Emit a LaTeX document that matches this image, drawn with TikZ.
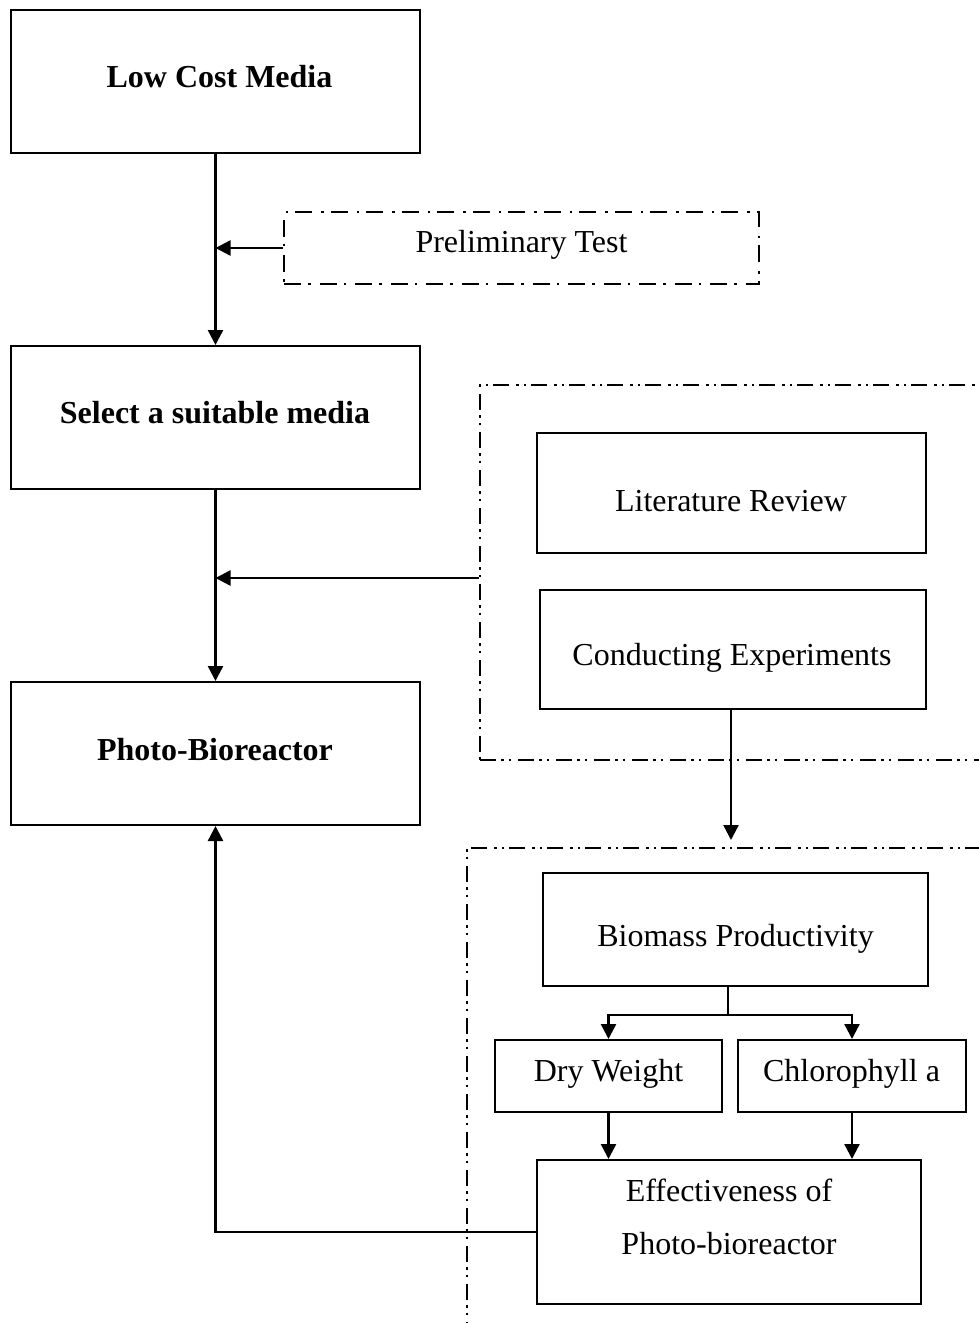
\documentclass[tikz,border=0pt]{standalone}
\usepackage{fontspec}
\setmainfont{Liberation Serif}
\usetikzlibrary{arrows.meta}
\begin{document}
\begin{tikzpicture}[x=1pt,y=-1pt,
  box/.style={draw, line width=2pt, rectangle, inner sep=0pt},
  txt/.style={anchor=base, inner sep=0pt, font=\fontsize{32}{38}\selectfont},
  btxt/.style={txt, font=\fontsize{32}{38}\selectfont\bfseries},
  dashdot/.style={draw, line width=2pt, rectangle, inner sep=0pt,
    dash pattern=on 17pt off 7pt on 2.5pt off 9pt},
  dashdotdot/.style={draw, line width=2pt, rectangle, inner sep=0pt,
    dash pattern=on 16pt off 5pt on 2.5pt off 5pt on 2.5pt off 7pt},
  link/.style={line width=2.4pt},
  arr/.style={line width=2.4pt, -{Triangle[length=15pt,width=15pt]}}]
\clip (0,0) rectangle (979,1323);
\fill[white] (0,0) rectangle (979,1323);

% left column boxes
\node[box, minimum width=409pt, minimum height=143pt] (low) at (215.5,81.5) {};
\node[btxt] (lowt) at (219.5,87) {Low Cost Media};
\node[box, minimum width=409pt, minimum height=143pt] (sel) at (215.5,417.5) {};
\node[btxt] (selt) at (215,423) {Select a suitable media};
\node[box, minimum width=409pt, minimum height=143pt] (photo) at (215.5,753.5) {};
\node[btxt] (photot) at (215,760) {Photo-Bioreactor};

% preliminary test
\node[dashdot, minimum width=475pt, minimum height=72pt] (pre) at (521.5,248) {};
\node[txt] (pret) at (521.5,252) {Preliminary Test};

% group 1
\node[dashdotdot, minimum width=530pt, minimum height=375pt] (grp1) at (745,572.5) {};
\node[box, minimum width=389pt, minimum height=120pt] (lit) at (731.5,493) {};
\node[txt] (litt) at (731,511) {Literature Review};
\node[box, minimum width=386pt, minimum height=119pt] (cond) at (733,649.5) {};
\node[txt] (condt) at (732,665) {Conducting Experiments};

% group 2
\node[dashdotdot, minimum width=543pt, minimum height=492pt] (grp2) at (738.5,1094) {};
\node[box, minimum width=385pt, minimum height=113pt] (bio) at (735.5,929.5) {};
\node[txt] (biot) at (735.5,946) {Biomass Productivity};
\node[box, minimum width=227pt, minimum height=72pt] (dry) at (608.5,1076) {};
\node[txt] (dryt) at (608.5,1081) {Dry Weight};
\node[box, minimum width=228pt, minimum height=72pt] (chl) at (852,1076) {};
\node[txt] (chlt) at (851.5,1081) {Chlorophyll a};
\node[box, minimum width=384pt, minimum height=144pt] (eff) at (729,1232) {};
\node[txt] (efft1) at (729,1201) {Effectiveness of};
\node[txt] (efft2) at (729,1254) {Photo-bioreactor};

% connectors
\draw[arr] (low.south) -- (sel.north);
\draw[arr] (pre.west) -- (low.south |- pre.west);
\draw[arr] (sel.south) -- (photo.north);
\coordinate (g1out) at ([yshift=-5.5pt]grp1.west);
\draw[arr] (g1out) -- (sel.south |- g1out);
\coordinate (condx) at ([xshift=-2pt]cond.south);
\draw[arr, shorten >=7pt] (condx) -- (condx |- grp2.north);
\coordinate (split) at (728,1015);
\draw[link] (bio.south -| split) -- (split);
\draw[arr] (split) -| (dry.north);
\draw[arr] (split) -| (chl.north);
\draw[arr] (dry.south) -- (dry.south |- eff.north);
\draw[arr] (chl.south) -- (chl.south |- eff.north);
\draw[arr] (eff.west) -| (photo.south);
\end{tikzpicture}
\end{document}
